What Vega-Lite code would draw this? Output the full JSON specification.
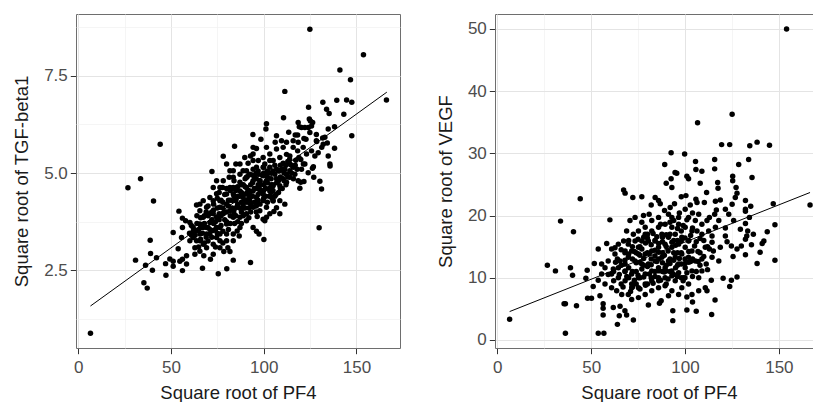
{
  "$schema": "https://vega.github.io/schema/vega-lite/v6.json",
  "padding": {"left": 12, "top": 13, "right": 0, "bottom": 0},
  "background": "white",
  "spacing": 34,
  "config": {
    "view": {"stroke": "#6e6e6e", "strokeWidth": 1},
    "axis": {
      "labelFont": "Liberation Sans",
      "titleFont": "Liberation Sans",
      "labelFontSize": 17,
      "titleFontSize": 18.5,
      "titleFontWeight": "normal",
      "labelColor": "#4d4d4d",
      "titleColor": "#1a1a1a",
      "tickColor": "#333333",
      "tickSize": 5.7,
      "domain": false
    }
  },
  "datasets": {
    "tgf": [
      {"pf4":6.6,"tgf":0.88},{"pf4":26.8,"tgf":4.62},{"pf4":33.6,"tgf":4.85},{"pf4":44.2,"tgf":5.74},{"pf4":40.6,"tgf":4.28},{"pf4":30.9,"tgf":2.76},{"pf4":36.3,"tgf":2.63},{"pf4":35.4,"tgf":2.18},{"pf4":37.2,"tgf":2.04},{"pf4":38.8,"tgf":3.27},
      {"pf4":39,"tgf":2.93},{"pf4":40,"tgf":2.5},{"pf4":42.2,"tgf":2.82},{"pf4":47.3,"tgf":2.37},{"pf4":47.1,"tgf":2.67},{"pf4":51.2,"tgf":3.47},{"pf4":54.3,"tgf":4.02},{"pf4":53.9,"tgf":3.05},{"pf4":49.4,"tgf":2.79},{"pf4":51.2,"tgf":2.6},
      {"pf4":56.2,"tgf":2.49},{"pf4":58.4,"tgf":2.66},{"pf4":67,"tgf":2.55},{"pf4":75.5,"tgf":2.41},{"pf4":80.1,"tgf":2.54},{"pf4":83.6,"tgf":2.76},{"pf4":92.9,"tgf":2.7},{"pf4":100.1,"tgf":3.29},{"pf4":129.9,"tgf":3.59},{"pf4":72.1,"tgf":5.04},
      {"pf4":78.2,"tgf":5.43},{"pf4":84.3,"tgf":5.69},{"pf4":94.2,"tgf":5.99},{"pf4":101.2,"tgf":6.13},{"pf4":101.5,"tgf":6.27},{"pf4":110.7,"tgf":6.42},{"pf4":111.4,"tgf":7.1},{"pf4":124.9,"tgf":8.7},{"pf4":153.8,"tgf":8.04},{"pf4":141.1,"tgf":7.65},
      {"pf4":146.8,"tgf":7.4},{"pf4":166.2,"tgf":6.88},{"pf4":139.4,"tgf":6.87},{"pf4":144.7,"tgf":6.88},{"pf4":147.5,"tgf":6.82},{"pf4":131.9,"tgf":6.82},{"pf4":124.2,"tgf":6.69},{"pf4":143.2,"tgf":6.51},{"pf4":133.9,"tgf":6.64},{"pf4":135.3,"tgf":6.53},
      {"pf4":147.5,"tgf":5.96},{"pf4":138.2,"tgf":6.19},{"pf4":134.8,"tgf":6.13},{"pf4":138.2,"tgf":5.64},{"pf4":134.8,"tgf":5.44},{"pf4":135.7,"tgf":5.23},{"pf4":130.3,"tgf":4.79},{"pf4":131.2,"tgf":4.59},{"pf4":127,"tgf":4.89},{"pf4":124,"tgf":5.01},
      {"pf4":120,"tgf":4.76},{"pf4":121.7,"tgf":4.78},{"pf4":119.5,"tgf":4.61},{"pf4":126.3,"tgf":5.12},{"pf4":125.2,"tgf":6.34},{"pf4":125.8,"tgf":6.21},{"pf4":118.6,"tgf":6.3},{"pf4":118.3,"tgf":5.98},{"pf4":121.7,"tgf":5.89},{"pf4":128.4,"tgf":5.83},
      {"pf4":132.1,"tgf":5.74},{"pf4":115.9,"tgf":5.66},{"pf4":118.3,"tgf":5.57},{"pf4":114.1,"tgf":5.44},{"pf4":112.3,"tgf":5.48},{"pf4":106.9,"tgf":5.96},{"pf4":106.2,"tgf":5.79},{"pf4":101.5,"tgf":5.66},{"pf4":96.1,"tgf":5.63},{"pf4":98.5,"tgf":5.87},
      {"pf4":99.7,"tgf":5.4},{"pf4":111.4,"tgf":4.2},{"pf4":108.7,"tgf":3.95},{"pf4":105.5,"tgf":4.01},{"pf4":96.5,"tgf":3.88},{"pf4":94.3,"tgf":3.6},{"pf4":96.1,"tgf":3.5},{"pf4":97.5,"tgf":3.43},{"pf4":99.7,"tgf":3.81},{"pf4":100.6,"tgf":3.77},
      {"pf4":86.8,"tgf":3.38},{"pf4":85.7,"tgf":3.51},{"pf4":84.3,"tgf":3.7},{"pf4":80.7,"tgf":3.08},{"pf4":78.5,"tgf":2.98},{"pf4":81.8,"tgf":2.98},{"pf4":72.8,"tgf":3.17},{"pf4":71.3,"tgf":2.78},{"pf4":67.7,"tgf":2.87},{"pf4":62.9,"tgf":2.91},
      {"pf4":58.4,"tgf":2.87},{"pf4":51.2,"tgf":2.73},{"pf4":54.8,"tgf":2.73},{"pf4":56.2,"tgf":2.78},{"pf4":64.9,"tgf":3.1},{"pf4":61.1,"tgf":3.4},{"pf4":55.7,"tgf":3.34},{"pf4":56.2,"tgf":3.6},{"pf4":56.2,"tgf":3.84},{"pf4":60.2,"tgf":3.73},
      {"pf4":57.9,"tgf":3.77},{"pf4":63.8,"tgf":4.18},{"pf4":65.6,"tgf":4.03},{"pf4":74.6,"tgf":4.47},{"pf4":77.8,"tgf":4.63},{"pf4":81.4,"tgf":4.89},{"pf4":83.6,"tgf":4.63},{"pf4":85,"tgf":5.23},{"pf4":87.2,"tgf":5.23},{"pf4":89.8,"tgf":5.4},
      {"pf4":92.9,"tgf":5.44},{"pf4":91.6,"tgf":5.25},{"pf4":88.9,"tgf":5.06},{"pf4":94.3,"tgf":5.1},{"pf4":97.1,"tgf":4.97},{"pf4":103.3,"tgf":5.15},{"pf4":105.1,"tgf":5.32},{"pf4":108.7,"tgf":5.4},{"pf4":110.5,"tgf":5.25},{"pf4":112.3,"tgf":4.97},
      {"pf4":114.1,"tgf":4.89},{"pf4":115.9,"tgf":5.15},{"pf4":114.1,"tgf":5.23},{"pf4":117.3,"tgf":5.33},{"pf4":110.5,"tgf":5.66},{"pf4":106.9,"tgf":5.62},{"pf4":103.3,"tgf":5.49},{"pf4":100.6,"tgf":5.23},{"pf4":105.1,"tgf":4.67},{"pf4":108.7,"tgf":4.67},
      {"pf4":110.5,"tgf":4.85},{"pf4":106.6,"tgf":4.45},{"pf4":105.1,"tgf":4.28},{"pf4":103.3,"tgf":4.54},{"pf4":101.5,"tgf":4.8},{"pf4":97.9,"tgf":4.58},{"pf4":94.3,"tgf":4.54},{"pf4":90.7,"tgf":4.63},{"pf4":87.2,"tgf":4.76},{"pf4":83.6,"tgf":4.29},
      {"pf4":80,"tgf":4.2},{"pf4":76.4,"tgf":4.29},{"pf4":72.8,"tgf":4.29},{"pf4":69.2,"tgf":4.12},{"pf4":67.4,"tgf":3.86},{"pf4":71,"tgf":3.73},{"pf4":74.6,"tgf":3.86},{"pf4":78.2,"tgf":3.95},{"pf4":81.8,"tgf":4.03},{"pf4":85.4,"tgf":4.12},
      {"pf4":88.9,"tgf":4.2},{"pf4":92.5,"tgf":4.29},{"pf4":96.1,"tgf":4.37},{"pf4":99.7,"tgf":4.29},{"pf4":94.3,"tgf":4.12},{"pf4":90.7,"tgf":3.95},{"pf4":87.2,"tgf":3.86},{"pf4":83.6,"tgf":3.86},{"pf4":80,"tgf":3.69},{"pf4":76.4,"tgf":3.6},
      {"pf4":72.8,"tgf":3.52},{"pf4":69.2,"tgf":3.43},{"pf4":65.6,"tgf":3.43},{"pf4":63.8,"tgf":3.26},{"pf4":67.4,"tgf":3.17},{"pf4":71,"tgf":3.43},{"pf4":74.6,"tgf":3.34},{"pf4":76.4,"tgf":3.08},{"pf4":72.8,"tgf":2.91},{"pf4":69.2,"tgf":3.08},
      {"pf4":65.6,"tgf":3.26},{"pf4":62,"tgf":3.6},{"pf4":65.6,"tgf":3.69},{"pf4":69.2,"tgf":3.6},{"pf4":72.8,"tgf":3.95},{"pf4":76.4,"tgf":4.12},{"pf4":80,"tgf":4.46},{"pf4":83.6,"tgf":4.46},{"pf4":87.2,"tgf":4.54},{"pf4":90.7,"tgf":4.46},
      {"pf4":94.3,"tgf":4.8},{"pf4":97.9,"tgf":4.8},{"pf4":101.5,"tgf":4.97},{"pf4":94.3,"tgf":5.32},{"pf4":97.1,"tgf":5.32},{"pf4":99.7,"tgf":5.15},{"pf4":90.7,"tgf":4.89},{"pf4":87.2,"tgf":4.97},{"pf4":83.6,"tgf":4.89},{"pf4":81.8,"tgf":4.63},
      {"pf4":85.4,"tgf":4.63},{"pf4":88.9,"tgf":4.37},{"pf4":92.5,"tgf":4.46},{"pf4":96.1,"tgf":4.2},{"pf4":97.9,"tgf":4.03},{"pf4":101.5,"tgf":4.12},{"pf4":103.3,"tgf":3.95},{"pf4":101.5,"tgf":3.86},{"pf4":87.2,"tgf":3.6},{"pf4":90.7,"tgf":3.77},
      {"pf4":83.6,"tgf":3.43},{"pf4":80,"tgf":3.43},{"pf4":76.4,"tgf":3.43},{"pf4":74.6,"tgf":3.6},{"pf4":71,"tgf":3.95},{"pf4":67.4,"tgf":3.6},{"pf4":62,"tgf":3.34},{"pf4":60.2,"tgf":3.26},{"pf4":62.9,"tgf":3.08},{"pf4":65.6,"tgf":2.99},
      {"pf4":76.4,"tgf":3.26},{"pf4":80,"tgf":3.26},{"pf4":83.6,"tgf":3.26},{"pf4":78.2,"tgf":4.8},{"pf4":74.6,"tgf":4.8},{"pf4":76.4,"tgf":4.63},{"pf4":72.8,"tgf":4.63},{"pf4":71,"tgf":4.37},{"pf4":67.4,"tgf":4.29},{"pf4":65.6,"tgf":4.2},
      {"pf4":80,"tgf":5.23},{"pf4":83.6,"tgf":5.06},{"pf4":81.8,"tgf":5.06},{"pf4":90.7,"tgf":5.06},{"pf4":92.5,"tgf":4.97},{"pf4":96.1,"tgf":5.15},{"pf4":94.3,"tgf":5.49},{"pf4":94.3,"tgf":5.66},{"pf4":103.3,"tgf":5.32},{"pf4":106,"tgf":4.97},
      {"pf4":108.7,"tgf":5.06},{"pf4":111.4,"tgf":5.1},{"pf4":114.1,"tgf":5.06},{"pf4":116.8,"tgf":4.97},{"pf4":118.6,"tgf":4.8},{"pf4":120.4,"tgf":5.1},{"pf4":122.2,"tgf":5.23},{"pf4":123.1,"tgf":5.49},{"pf4":125.8,"tgf":5.57},{"pf4":127.6,"tgf":5.44},
      {"pf4":129.4,"tgf":5.52},{"pf4":121.3,"tgf":5.66},{"pf4":118.6,"tgf":5.79},{"pf4":115.9,"tgf":5.83},{"pf4":112.3,"tgf":5.79},{"pf4":109.6,"tgf":5.83},{"pf4":124.9,"tgf":6.04},{"pf4":128.4,"tgf":5.99},{"pf4":122.2,"tgf":6.17},{"pf4":120.4,"tgf":6.17},
      {"pf4":133,"tgf":5.92},{"pf4":108.7,"tgf":4.29},{"pf4":106.9,"tgf":4.11},{"pf4":104.2,"tgf":4.37},{"pf4":99.7,"tgf":4.46},{"pf4":112.3,"tgf":4.76},{"pf4":106.9,"tgf":4.85},{"pf4":99.7,"tgf":4.93},{"pf4":63.8,"tgf":3.52},{"pf4":126.8,"tgf":5.16},
      {"pf4":121.4,"tgf":5.23},{"pf4":135.8,"tgf":5.18},{"pf4":124.6,"tgf":6.39},{"pf4":126.4,"tgf":6.3},{"pf4":124.1,"tgf":6.17},{"pf4":119.2,"tgf":6.19},{"pf4":122.8,"tgf":5.87},{"pf4":128.6,"tgf":5.81},{"pf4":131.8,"tgf":5.9},{"pf4":134.3,"tgf":5.77},
      {"pf4":131.3,"tgf":5.66},{"pf4":113.5,"tgf":6.05},{"pf4":117,"tgf":5.98},
      {"pf4":62,"tgf":3.5},{"pf4":64,"tgf":3.7},{"pf4":66,"tgf":3.3},{"pf4":68,"tgf":3.9},{"pf4":70,"tgf":3.6},{"pf4":72,"tgf":4.0},{"pf4":73,"tgf":3.7},{"pf4":75,"tgf":4.1},{"pf4":76,"tgf":3.8},{"pf4":77,"tgf":4.3},
      {"pf4":78,"tgf":3.5},{"pf4":79,"tgf":4.0},{"pf4":81,"tgf":4.3},{"pf4":82,"tgf":3.9},{"pf4":83,"tgf":4.1},{"pf4":84,"tgf":4.4},{"pf4":85,"tgf":3.9},{"pf4":86,"tgf":4.2},{"pf4":87,"tgf":4.4},{"pf4":88,"tgf":4.0},
      {"pf4":89,"tgf":4.7},{"pf4":90,"tgf":4.3},{"pf4":91,"tgf":4.5},{"pf4":92,"tgf":4.1},{"pf4":93,"tgf":4.7},{"pf4":94,"tgf":4.4},{"pf4":95,"tgf":4.9},{"pf4":96,"tgf":4.6},{"pf4":97,"tgf":4.3},{"pf4":98,"tgf":4.8},
      {"pf4":99,"tgf":4.5},{"pf4":100,"tgf":4.7},{"pf4":101,"tgf":4.4},{"pf4":102,"tgf":4.9},{"pf4":103,"tgf":4.6},{"pf4":104,"tgf":5.0},{"pf4":105,"tgf":4.7},{"pf4":106,"tgf":4.4},{"pf4":107,"tgf":5.1},{"pf4":108,"tgf":4.8},
      {"pf4":109,"tgf":5.2},{"pf4":110,"tgf":4.6},{"pf4":111,"tgf":5.0},{"pf4":113,"tgf":5.3},{"pf4":115,"tgf":5.0},{"pf4":117,"tgf":5.2},{"pf4":119,"tgf":5.4},{"pf4":70,"tgf":3.9},{"pf4":74,"tgf":3.55},{"pf4":78,"tgf":4.25},
      {"pf4":80,"tgf":3.75},{"pf4":82,"tgf":4.55},{"pf4":84,"tgf":4.05},{"pf4":86,"tgf":4.65},{"pf4":88,"tgf":4.25},{"pf4":90,"tgf":4.85},{"pf4":92,"tgf":4.35},{"pf4":94,"tgf":4.75},{"pf4":96,"tgf":4.15},{"pf4":98,"tgf":4.55},
      {"pf4":100,"tgf":5.0},{"pf4":102,"tgf":4.25},{"pf4":104,"tgf":4.85},{"pf4":66,"tgf":3.6},{"pf4":68,"tgf":3.2},{"pf4":72,"tgf":3.35},{"pf4":76,"tgf":4.5},{"pf4":80,"tgf":4.6},{"pf4":84,"tgf":4.8},{"pf4":88,"tgf":4.5},
      {"pf4":92,"tgf":4.95},{"pf4":96,"tgf":5.0},{"pf4":100,"tgf":4.35},{"pf4":104,"tgf":4.5},{"pf4":108,"tgf":4.5},{"pf4":112,"tgf":4.7},{"pf4":69,"tgf":4.0},{"pf4":73,"tgf":4.2},{"pf4":77,"tgf":3.9},{"pf4":81,"tgf":3.55},
      {"pf4":85,"tgf":4.3},{"pf4":89,"tgf":4.1},{"pf4":93,"tgf":4.2},{"pf4":97,"tgf":4.7},{"pf4":101,"tgf":4.75},{"pf4":105,"tgf":4.3},{"pf4":109,"tgf":4.9},
      {"pf4":60,"tgf":3.45},{"pf4":61,"tgf":3.65},{"pf4":63,"tgf":3.4},{"pf4":64,"tgf":3.9},{"pf4":65,"tgf":3.55},{"pf4":66,"tgf":3.85},{"pf4":67,"tgf":3.45},{"pf4":68,"tgf":3.7},{"pf4":69,"tgf":3.35},{"pf4":70,"tgf":4.15},
      {"pf4":71,"tgf":3.55},{"pf4":72,"tgf":3.8},{"pf4":73,"tgf":4.05},{"pf4":74,"tgf":3.75},{"pf4":75,"tgf":3.45},{"pf4":75,"tgf":4.35},{"pf4":76,"tgf":3.95},{"pf4":77,"tgf":3.65},{"pf4":78,"tgf":4.1},{"pf4":79,"tgf":3.8},
      {"pf4":79,"tgf":4.45},{"pf4":80,"tgf":4.0},{"pf4":81,"tgf":4.15},{"pf4":82,"tgf":3.7},{"pf4":82,"tgf":4.3},{"pf4":83,"tgf":4.6},{"pf4":84,"tgf":3.95},{"pf4":85,"tgf":4.55},{"pf4":86,"tgf":3.75},{"pf4":86,"tgf":4.4},
      {"pf4":87,"tgf":4.1},{"pf4":88,"tgf":4.7},{"pf4":89,"tgf":3.9},{"pf4":89,"tgf":4.45},{"pf4":90,"tgf":4.1},{"pf4":90,"tgf":4.65},{"pf4":91,"tgf":4.25},{"pf4":91,"tgf":4.9},{"pf4":92,"tgf":4.55},{"pf4":93,"tgf":4.0},
      {"pf4":93,"tgf":4.4},{"pf4":94,"tgf":4.95},{"pf4":95,"tgf":4.25},{"pf4":95,"tgf":4.6},{"pf4":96,"tgf":4.85},{"pf4":97,"tgf":4.45},{"pf4":97,"tgf":5.05},{"pf4":98,"tgf":4.2},{"pf4":98,"tgf":4.7},{"pf4":99,"tgf":4.95},
      {"pf4":100,"tgf":4.55},{"pf4":100,"tgf":5.15},{"pf4":101,"tgf":4.6},{"pf4":102,"tgf":5.05},{"pf4":102,"tgf":4.75},{"pf4":103,"tgf":4.4},{"pf4":104,"tgf":4.7},{"pf4":105,"tgf":5.05},{"pf4":105,"tgf":4.55},{"pf4":106,"tgf":5.2},
      {"pf4":107,"tgf":4.75},{"pf4":108,"tgf":5.05},{"pf4":109,"tgf":4.6},{"pf4":110,"tgf":5.1},{"pf4":111,"tgf":4.8},{"pf4":112,"tgf":5.2},{"pf4":113,"tgf":4.9},{"pf4":114,"tgf":5.35},{"pf4":115,"tgf":5.2},{"pf4":116,"tgf":4.85},
      {"pf4":118,"tgf":5.1},{"pf4":120,"tgf":5.35},{"pf4":88,"tgf":3.7},{"pf4":92,"tgf":3.85},{"pf4":96,"tgf":4.0},{"pf4":70,"tgf":3.25},{"pf4":74,"tgf":3.1},{"pf4":78,"tgf":3.2}
    ],
    "tgfline": [{"pf4": 6.6, "tgf": 1.58}, {"pf4": 166.4, "tgf": 7.08}],
    "vegf": [
      {"pf4":6.6,"vegf":3.33},{"pf4":154.1,"vegf":50},{"pf4":166.6,"vegf":21.7},{"pf4":106.7,"vegf":34.9},{"pf4":125.1,"vegf":36.3},{"pf4":119.5,"vegf":31.4},{"pf4":123.8,"vegf":31.4},{"pf4":134.5,"vegf":31.2},{"pf4":138.4,"vegf":31.8},{"pf4":145,"vegf":31.3},
      {"pf4":92.6,"vegf":30.1},{"pf4":99.8,"vegf":29.9},{"pf4":89.2,"vegf":28.2},{"pf4":105.6,"vegf":28.7},{"pf4":115.8,"vegf":29},{"pf4":128.6,"vegf":28.2},{"pf4":133.9,"vegf":29},{"pf4":105.8,"vegf":27.4},{"pf4":109,"vegf":27.1},{"pf4":115.8,"vegf":27.5},
      {"pf4":94.7,"vegf":26.9},{"pf4":95.6,"vegf":26.8},{"pf4":101,"vegf":26.3},{"pf4":101.9,"vegf":25.9},{"pf4":125.4,"vegf":26.3},{"pf4":125.4,"vegf":25.6},{"pf4":135.7,"vegf":26.1},{"pf4":92.6,"vegf":25.9},{"pf4":90,"vegf":25.2},{"pf4":93,"vegf":24.5},
      {"pf4":108.1,"vegf":25.2},{"pf4":117.4,"vegf":25.3},{"pf4":117.6,"vegf":24.4},{"pf4":127.2,"vegf":24.5},{"pf4":111.5,"vegf":23.7},{"pf4":77,"vegf":23},{"pf4":72.2,"vegf":22.9},{"pf4":67.3,"vegf":24.1},{"pf4":68.1,"vegf":23.6},{"pf4":44.2,"vegf":22.7},
      {"pf4":33.7,"vegf":19.1},{"pf4":40.6,"vegf":17.4},{"pf4":60,"vegf":19.3},{"pf4":26.7,"vegf":12},{"pf4":31,"vegf":11.1},{"pf4":39,"vegf":11.6},{"pf4":40.1,"vegf":10.4},{"pf4":36.3,"vegf":5.8},{"pf4":35.6,"vegf":5.8},{"pf4":42.2,"vegf":5.5},
      {"pf4":36.3,"vegf":1.07},{"pf4":53.8,"vegf":1.07},{"pf4":56.8,"vegf":1.07},{"pf4":47.9,"vegf":11.2},{"pf4":47.2,"vegf":9.9},{"pf4":51.7,"vegf":12.3},{"pf4":53.8,"vegf":14.6},{"pf4":51.1,"vegf":8.6},{"pf4":48.1,"vegf":6.7},{"pf4":50.2,"vegf":6.7},
      {"pf4":54.7,"vegf":7.1},{"pf4":56.4,"vegf":5.8},{"pf4":56.4,"vegf":5.1},{"pf4":56.4,"vegf":4.0},{"pf4":61.8,"vegf":5.2},{"pf4":64,"vegf":2.5},{"pf4":65,"vegf":3.9},{"pf4":68.9,"vegf":4.0},{"pf4":72.5,"vegf":3.2},{"pf4":65.4,"vegf":5.4},
      {"pf4":68,"vegf":4.7},{"pf4":80.5,"vegf":5.6},{"pf4":86.4,"vegf":5.9},{"pf4":87.3,"vegf":6.3},{"pf4":93.5,"vegf":4.7},{"pf4":93.5,"vegf":3.1},{"pf4":101,"vegf":4.8},{"pf4":106,"vegf":4.6},{"pf4":104,"vegf":6.1},{"pf4":114.2,"vegf":4.1},
      {"pf4":116,"vegf":6.4},{"pf4":147.9,"vegf":12.8},{"pf4":138.4,"vegf":12.3},{"pf4":140,"vegf":14.1},{"pf4":141.1,"vegf":15.5},{"pf4":143.8,"vegf":17.4},{"pf4":147.9,"vegf":18.5},{"pf4":147,"vegf":21.9},{"pf4":135,"vegf":21.5},{"pf4":134.3,"vegf":19.7},
      {"pf4":133.4,"vegf":17.5},{"pf4":136.4,"vegf":17},{"pf4":132.9,"vegf":16.7},{"pf4":132.2,"vegf":16.2},{"pf4":135.4,"vegf":15.3},{"pf4":132.2,"vegf":13.7},{"pf4":125.6,"vegf":13.4},{"pf4":124.7,"vegf":15.1},{"pf4":127.7,"vegf":14.6},{"pf4":121.5,"vegf":16.7},
      {"pf4":122.4,"vegf":15.8},{"pf4":123.8,"vegf":8.6},{"pf4":124.7,"vegf":9.6},{"pf4":120.3,"vegf":9.9},{"pf4":127.7,"vegf":10.1},{"pf4":130,"vegf":15.1},{"pf4":132.2,"vegf":18.7},{"pf4":129.5,"vegf":17.8},{"pf4":121.5,"vegf":18},{"pf4":125.9,"vegf":19.2},
      {"pf4":121.5,"vegf":21},{"pf4":123.3,"vegf":20.2},{"pf4":116.7,"vegf":20.9},{"pf4":118.8,"vegf":22.5},{"pf4":126.8,"vegf":22.9},{"pf4":127.7,"vegf":23.6},{"pf4":132.2,"vegf":21},{"pf4":132.2,"vegf":20.7},{"pf4":107.3,"vegf":10},{"pf4":110.8,"vegf":8.4},
      {"pf4":114,"vegf":9.6},{"pf4":111.7,"vegf":7.9},{"pf4":111.3,"vegf":12.2},{"pf4":109,"vegf":13},{"pf4":106.9,"vegf":14.2},{"pf4":105.1,"vegf":15.1},{"pf4":109,"vegf":17},{"pf4":112.6,"vegf":17.5},{"pf4":114.4,"vegf":16.7},{"pf4":113,"vegf":19.7},
      {"pf4":115.8,"vegf":20.2},{"pf4":107.3,"vegf":20.2},{"pf4":110.3,"vegf":22.1},{"pf4":106.4,"vegf":22.1},{"pf4":105.8,"vegf":22.6},{"pf4":102.8,"vegf":21.7},{"pf4":100.1,"vegf":21},{"pf4":100.5,"vegf":23.2},{"pf4":98,"vegf":23},{"pf4":94.4,"vegf":21.9},
      {"pf4":92.1,"vegf":21.3},{"pf4":91.2,"vegf":20.2},{"pf4":89.1,"vegf":20.8},{"pf4":86.8,"vegf":21.9},{"pf4":84.1,"vegf":22.9},{"pf4":85.9,"vegf":22.4},{"pf4":82,"vegf":21.7},{"pf4":80.9,"vegf":20.2},{"pf4":77.9,"vegf":20},{"pf4":77,"vegf":18.9},
      {"pf4":73.4,"vegf":19.7},{"pf4":70.7,"vegf":19.2},{"pf4":72.5,"vegf":17},{"pf4":68.9,"vegf":17.5},{"pf4":67.3,"vegf":15.9},{"pf4":64.5,"vegf":15.4},{"pf4":60.9,"vegf":14.6},{"pf4":58.3,"vegf":15.5},{"pf4":62.7,"vegf":13.8},{"pf4":65.4,"vegf":12.7},
      {"pf4":61.8,"vegf":11.4},{"pf4":59.1,"vegf":10.5},{"pf4":55.6,"vegf":10.6},{"pf4":53.8,"vegf":9.6},{"pf4":57.4,"vegf":9},{"pf4":60.9,"vegf":8.4},{"pf4":63.6,"vegf":7.9},{"pf4":66.3,"vegf":7.3},{"pf4":69.8,"vegf":7.3},{"pf4":71.6,"vegf":6.5},
      {"pf4":75.2,"vegf":6.8},{"pf4":78.8,"vegf":7.3},{"pf4":82.3,"vegf":7.9},{"pf4":85.9,"vegf":8.4},{"pf4":89.4,"vegf":8.7},{"pf4":93,"vegf":7.9},{"pf4":91.2,"vegf":7.1},{"pf4":96.6,"vegf":7.3},{"pf4":98.3,"vegf":8.4},{"pf4":101,"vegf":6.9},
      {"pf4":103.7,"vegf":7.3},{"pf4":101.9,"vegf":9},{"pf4":99.2,"vegf":10},{"pf4":96.6,"vegf":10.8},{"pf4":94.8,"vegf":9.5},{"pf4":89.4,"vegf":10},{"pf4":85.9,"vegf":10},{"pf4":82.3,"vegf":9.5},{"pf4":78.8,"vegf":9},{"pf4":75.2,"vegf":8.4},
      {"pf4":71.6,"vegf":9},{"pf4":68.1,"vegf":9.5},{"pf4":64.5,"vegf":10},{"pf4":68.1,"vegf":11.1},{"pf4":71.6,"vegf":10.6},{"pf4":75.2,"vegf":10},{"pf4":78.8,"vegf":10.6},{"pf4":82.3,"vegf":11.1},{"pf4":85.9,"vegf":11.6},{"pf4":89.4,"vegf":11.6},
      {"pf4":93,"vegf":11.1},{"pf4":96.6,"vegf":12.2},{"pf4":100.1,"vegf":11.6},{"pf4":103.7,"vegf":11.1},{"pf4":105.5,"vegf":12.7},{"pf4":101.9,"vegf":13.3},{"pf4":98.3,"vegf":13.8},{"pf4":94.8,"vegf":13.3},{"pf4":91.2,"vegf":12.7},{"pf4":87.7,"vegf":13.3},
      {"pf4":84.1,"vegf":12.7},{"pf4":80.5,"vegf":12.2},{"pf4":77,"vegf":12.2},{"pf4":73.4,"vegf":12.7},{"pf4":69.8,"vegf":13.3},{"pf4":71.6,"vegf":14.3},{"pf4":75.2,"vegf":14.9},{"pf4":78.8,"vegf":13.8},{"pf4":82.3,"vegf":14.3},{"pf4":85.9,"vegf":14.9},
      {"pf4":89.4,"vegf":15.4},{"pf4":93,"vegf":14.9},{"pf4":96.6,"vegf":15.4},{"pf4":100.1,"vegf":14.9},{"pf4":103.7,"vegf":14.3},{"pf4":101.9,"vegf":15.9},{"pf4":98.3,"vegf":16.5},{"pf4":94.8,"vegf":17},{"pf4":91.2,"vegf":16.5},{"pf4":87.7,"vegf":17},
      {"pf4":84.1,"vegf":15.9},{"pf4":80.5,"vegf":15.9},{"pf4":77,"vegf":15.9},{"pf4":78.8,"vegf":17},{"pf4":82.3,"vegf":17.5},{"pf4":85.9,"vegf":18.1},{"pf4":89.4,"vegf":18.6},{"pf4":93,"vegf":18.1},{"pf4":96.6,"vegf":18.6},{"pf4":100.1,"vegf":18.1},
      {"pf4":103.7,"vegf":17.5},{"pf4":105.5,"vegf":19.2},{"pf4":101.9,"vegf":19.7},{"pf4":96.6,"vegf":19.7},{"pf4":93,"vegf":19.7},{"pf4":85.9,"vegf":19.7},{"pf4":82.3,"vegf":19.2},{"pf4":78.8,"vegf":18.1},{"pf4":75.2,"vegf":17.5},{"pf4":75.2,"vegf":13.8},
      {"pf4":68.1,"vegf":12.2},{"pf4":64.5,"vegf":11.6},{"pf4":60.9,"vegf":10.6},{"pf4":57.4,"vegf":11.6},{"pf4":55.6,"vegf":12.2},{"pf4":59.1,"vegf":12.7},{"pf4":62.7,"vegf":14.8},{"pf4":69.8,"vegf":15.4},{"pf4":68.1,"vegf":14.3},{"pf4":73.4,"vegf":15.9},
      {"pf4":71.6,"vegf":8.4},{"pf4":107.3,"vegf":7.9},{"pf4":109,"vegf":11.1},{"pf4":114.4,"vegf":13.3},{"pf4":118,"vegf":12.7},{"pf4":115.1,"vegf":14.3},{"pf4":118.8,"vegf":14.9},{"pf4":114.4,"vegf":15.7},{"pf4":110.8,"vegf":14.9},{"pf4":109,"vegf":18.6},
      {"pf4":111.7,"vegf":19.2},{"pf4":106.4,"vegf":17.5},{"pf4":116.2,"vegf":18.1},{"pf4":118,"vegf":19.2},{"pf4":116.2,"vegf":22.3},{"pf4":125.1,"vegf":21.8},{"pf4":132.2,"vegf":22.4},{"pf4":142,"vegf":15.9},
      {"pf4":66,"vegf":12},{"pf4":68,"vegf":14},{"pf4":70,"vegf":10},{"pf4":72,"vegf":13},{"pf4":74,"vegf":11},{"pf4":76,"vegf":15},{"pf4":78,"vegf":12},{"pf4":80,"vegf":14},{"pf4":82,"vegf":10},{"pf4":84,"vegf":16},
      {"pf4":86,"vegf":13},{"pf4":88,"vegf":11},{"pf4":90,"vegf":15},{"pf4":92,"vegf":13},{"pf4":94,"vegf":16},{"pf4":96,"vegf":12},{"pf4":98,"vegf":14},{"pf4":100,"vegf":10},{"pf4":102,"vegf":16},{"pf4":104,"vegf":13},
      {"pf4":106,"vegf":11},{"pf4":70,"vegf":16},{"pf4":74,"vegf":9},{"pf4":78,"vegf":16.5},{"pf4":82,"vegf":13},{"pf4":86,"vegf":15.5},{"pf4":90,"vegf":12},{"pf4":94,"vegf":10.5},{"pf4":98,"vegf":17.5},{"pf4":102,"vegf":12.5},
      {"pf4":74,"vegf":14},{"pf4":80,"vegf":9},{"pf4":84,"vegf":11},{"pf4":88,"vegf":14},{"pf4":92,"vegf":17},{"pf4":96,"vegf":14},{"pf4":100,"vegf":13},{"pf4":76,"vegf":10},{"pf4":80,"vegf":17},{"pf4":86,"vegf":9.5},
      {"pf4":90,"vegf":9},{"pf4":94,"vegf":14},{"pf4":98,"vegf":10},{"pf4":104,"vegf":18},{"pf4":108,"vegf":14},{"pf4":110,"vegf":16},{"pf4":112,"vegf":15},{"pf4":108,"vegf":12},{"pf4":68,"vegf":11},{"pf4":64,"vegf":13},
      {"pf4":62,"vegf":9.5},{"pf4":66,"vegf":9},{"pf4":72,"vegf":8.5},{"pf4":88,"vegf":16.5},{"pf4":84,"vegf":13.5},{"pf4":76,"vegf":12.5},{"pf4":92,"vegf":11},{"pf4":96,"vegf":16},
      {"pf4":62,"vegf":11},{"pf4":63,"vegf":12.5},{"pf4":65,"vegf":10.5},{"pf4":66,"vegf":14.5},{"pf4":67,"vegf":8.5},{"pf4":68,"vegf":12.8},{"pf4":69,"vegf":10.2},{"pf4":70,"vegf":13.8},{"pf4":70,"vegf":11.6},{"pf4":71,"vegf":7.8},
      {"pf4":72,"vegf":15},{"pf4":72,"vegf":11},{"pf4":73,"vegf":9.6},{"pf4":73,"vegf":14.2},{"pf4":74,"vegf":12.4},{"pf4":75,"vegf":16.2},{"pf4":75,"vegf":10.4},{"pf4":76,"vegf":13.6},{"pf4":76,"vegf":8.2},{"pf4":77,"vegf":11.4},
      {"pf4":77,"vegf":14.6},{"pf4":78,"vegf":10.1},{"pf4":78,"vegf":13.1},{"pf4":79,"vegf":15.6},{"pf4":79,"vegf":8.8},{"pf4":80,"vegf":11.8},{"pf4":80,"vegf":16.4},{"pf4":81,"vegf":10.6},{"pf4":81,"vegf":13.9},{"pf4":82,"vegf":12.1},
      {"pf4":82,"vegf":15.3},{"pf4":83,"vegf":9.1},{"pf4":83,"vegf":17.1},{"pf4":84,"vegf":14.4},{"pf4":84,"vegf":10.2},{"pf4":85,"vegf":12.6},{"pf4":85,"vegf":16.6},{"pf4":86,"vegf":11.1},{"pf4":86,"vegf":14.1},{"pf4":87,"vegf":9.6},
      {"pf4":87,"vegf":18.6},{"pf4":88,"vegf":12.4},{"pf4":88,"vegf":15.8},{"pf4":89,"vegf":10.9},{"pf4":89,"vegf":13.6},{"pf4":90,"vegf":16.9},{"pf4":90,"vegf":11.1},{"pf4":91,"vegf":14.3},{"pf4":91,"vegf":9.8},{"pf4":92,"vegf":12.3},
      {"pf4":92,"vegf":18.9},{"pf4":93,"vegf":15.7},{"pf4":93,"vegf":10.3},{"pf4":94,"vegf":12.8},{"pf4":94,"vegf":19.2},{"pf4":95,"vegf":11.6},{"pf4":95,"vegf":15.2},{"pf4":96,"vegf":17.9},{"pf4":96,"vegf":10.2},{"pf4":97,"vegf":13.1},
      {"pf4":97,"vegf":20.4},{"pf4":98,"vegf":12.2},{"pf4":98,"vegf":15.9},{"pf4":99,"vegf":18.4},{"pf4":99,"vegf":9.5},{"pf4":100,"vegf":16.4},{"pf4":100,"vegf":12.3},{"pf4":101,"vegf":19.3},{"pf4":101,"vegf":10.8},{"pf4":102,"vegf":14.2},
      {"pf4":103,"vegf":16.8},{"pf4":103,"vegf":12.6},{"pf4":104,"vegf":20.4},{"pf4":104,"vegf":10.2},{"pf4":106,"vegf":15.8},{"pf4":107,"vegf":12.6},{"pf4":108,"vegf":16.3},{"pf4":110,"vegf":13.4},{"pf4":112,"vegf":11.3},{"pf4":113,"vegf":14.6}
    ],
    "vegfline": [{"pf4": 6.6, "vegf": 4.56}, {"pf4": 166.6, "vegf": 23.7}]
  },
  "hconcat": [
    {
      "width": 324,
      "height": 334,
      "layer": [
        {
          "data": {"name": "tgf"},
          "mark": {"type": "circle", "size": 30, "color": "#000000", "opacity": 1},
          "encoding": {
            "x": {"field": "pf4", "type": "quantitative", "title": "Square root of PF4",
              "scale": {"domain": [-1.2, 173.5], "nice": false, "zero": false},
              "axis": {"values": [0, 25, 50, 75, 100, 125, 150], "labelExpr": "datum.value % 50 == 0 ? datum.label : ''",
                "tickOpacity": {"condition": {"test": "datum.value % 50 != 0", "value": 0}, "value": 1},
                "gridColor": {"condition": {"test": "datum.value % 50 == 0", "value": "#e4e4e4"}, "value": "#f1f1f1"},
                "gridWidth": {"condition": {"test": "datum.value % 50 == 0", "value": 1}, "value": 0.7},
                "labelPadding": 6, "titlePadding": 8}},
            "y": {"field": "tgf", "type": "quantitative", "title": "Square root of TGF-beta1",
              "scale": {"domain": [0.5, 9.09], "nice": false, "zero": false},
              "axis": {"values": [1.25, 2.5, 3.75, 5, 6.25, 7.5, 8.75], "format": ".1f", "labelExpr": "datum.value % 2.5 == 0 ? datum.label : ''",
                "tickOpacity": {"condition": {"test": "datum.value % 2.5 != 0", "value": 0}, "value": 1},
                "gridColor": {"condition": {"test": "datum.value % 2.5 == 0", "value": "#e4e4e4"}, "value": "#f1f1f1"},
                "gridWidth": {"condition": {"test": "datum.value % 2.5 == 0", "value": 1}, "value": 0.7},
                "labelPadding": 3, "titlePadding": 12}}
          }
        },
        {
          "data": {"name": "tgfline"},
          "mark": {"type": "line", "color": "#000000", "strokeWidth": 1},
          "encoding": {
            "x": {"field": "pf4", "type": "quantitative"},
            "y": {"field": "tgf", "type": "quantitative"}
          }
        }
      ]
    },
    {
      "width": 328,
      "height": 334,
      "layer": [
        {
          "data": {"name": "vegf"},
          "mark": {"type": "circle", "size": 30, "color": "#000000", "opacity": 1},
          "encoding": {
            "x": {"field": "pf4", "type": "quantitative", "title": "Square root of PF4",
              "scale": {"domain": [-1.2, 173.5], "nice": false, "zero": false},
              "axis": {"values": [0, 25, 50, 75, 100, 125, 150], "labelExpr": "datum.value % 50 == 0 ? datum.label : ''",
                "tickOpacity": {"condition": {"test": "datum.value % 50 != 0", "value": 0}, "value": 1},
                "gridColor": {"condition": {"test": "datum.value % 50 == 0", "value": "#e4e4e4"}, "value": "#f1f1f1"},
                "gridWidth": {"condition": {"test": "datum.value % 50 == 0", "value": 1}, "value": 0.7},
                "labelPadding": 6, "titlePadding": 8}},
            "y": {"field": "vegf", "type": "quantitative", "title": "Square root of VEGF",
              "scale": {"domain": [-1.3, 52.4], "nice": false, "zero": false},
              "axis": {"values": [0, 5, 10, 15, 20, 25, 30, 35, 40, 45, 50], "labelExpr": "datum.value % 10 == 0 ? datum.label : ''",
                "tickOpacity": {"condition": {"test": "datum.value % 10 != 0", "value": 0}, "value": 1},
                "gridColor": {"condition": {"test": "datum.value % 10 == 0", "value": "#e4e4e4"}, "value": "#f1f1f1"},
                "gridWidth": {"condition": {"test": "datum.value % 10 == 0", "value": 1}, "value": 0.7},
                "labelPadding": 3, "titlePadding": 12}}
          }
        },
        {
          "data": {"name": "vegfline"},
          "mark": {"type": "line", "color": "#000000", "strokeWidth": 1},
          "encoding": {
            "x": {"field": "pf4", "type": "quantitative"},
            "y": {"field": "vegf", "type": "quantitative"}
          }
        }
      ]
    }
  ]
}
